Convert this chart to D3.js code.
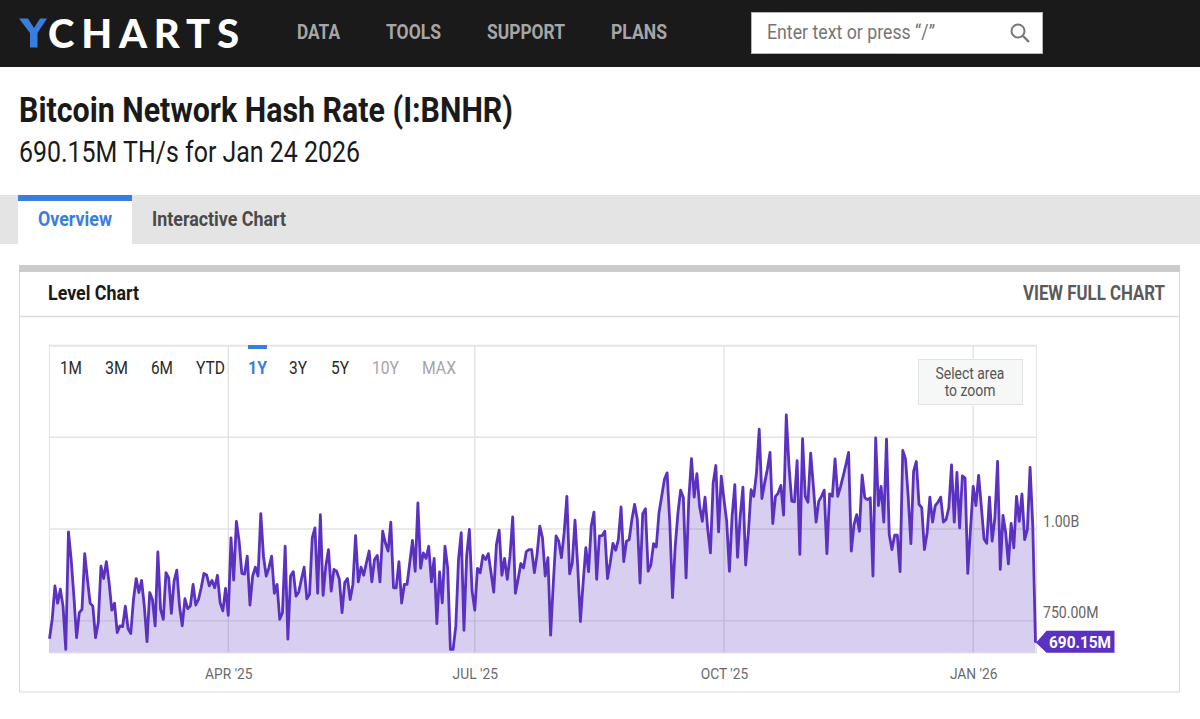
<!DOCTYPE html>
<html><head><meta charset="utf-8">
<style>html,body{margin:0;padding:0;background:#fff;overflow:hidden}svg{display:block}text{font-family:Roboto,sans-serif}</style>
<script src="https://cdn.jsdelivr.net/npm/d3@7"></script></head><body><svg id="c" width="1200" height="719"></svg>
<script>
const startDate = "2025-01-25";
const endDate = "2026-01-24";
const hashRateA = [701,754,845,798,836,790,672,992,917,817,704,772,781,933,863,798,790,704,745,899,865,911,854,779,798,718,736,734,790,729,715,808,865,827,860,790,693,827,808,736,938,781,754,881,867,770,858,888,790,736,810,783,790,849,793,808,840,879,875,845,860,840,874,799,777,838,765,976,861,1021,967,879,877,926,793,872,896,872,1042,926,872,894,926,825,849,754,772,953,700,872,884,817,828,863,896,810,822,976,1003,825,1039,819,899,944,831,890,885,863,772,854,865,808,849,982,856,896,874,908,940,856,917,928,856];
const hashRateB = [994,962,940,1019,840,840,911,798,849,849,908,969,885,1071,893,935,920,953,856,920,742,883,799,953,894,672,672,736,917,990,724,926,999,831,779,893,881,928,917,933,881,828,958,997,874,920,863,926,1033,825,863,906,894,938,944,944,881,931,1008,976,872,922,711,854,981,967,922,990,1089,878,908,1024,899,748,854,949,884,1008,1046,863,981,982,994,865,908,961,942,971,1060,911,967,971,1026,1067,1026,853,1042,1055,885,902,960,951,1044,1089,1135,1153,1017,813,953,1044,1106,1085,867,1080,1192,1087,1151,1062];
const hashRateC = [1021,1087,999,935,1125,1173,992,1144,1080,1021,885,1035,1121,923,1035,1114,902,990,1107,1089,1153,1272,1083,1125,1162,1209,1015,1089,1098,1119,1038,1311,1171,1076,1074,1186,931,1246,1089,1073,1207,1116,1019,1076,1089,1106,933,1096,1089,1191,1089,1115,1144,1175,1209,940,1012,1039,994,1147,1085,1080,1085,872,1248,1064,1116,1019,1245,985,944,983,983,884,1214,1191,1089,960,1157,1184,1067,1058,944,990,1087,1019,1064,1073,1087,1019,1026,1058,1175,1019,1154,1003,1145,1139,879,999,1116,1064,1146,1062,973,961,1087,967,1030,1184,890,1037,990,905,1015,949,1089,1021,1096,971,999,1168,1008,690.15];
const xTickDates = ["2025-04-01","2025-07-01","2025-10-01","2026-01-01"];
const xTickLabels = ["APR '25","JUL '25","OCT '25","JAN '26"];
const yGridValues = [750,1000,1250,1500];
const yTickValues = [750,1000];
const yTickLabels = ["750.00M","1.00B"];
const navItems = ["DATA","TOOLS","SUPPORT","PLANS"];
const rangeButtons = ["1M","3M","6M","YTD","1Y","3Y","5Y","10Y","MAX"];

const values = hashRateA.concat(hashRateB, hashRateC);
const parse = d3.utcParse("%Y-%m-%d");
const dates = values.map((_, i) => d3.utcDay.offset(parse(startDate), i));
const svg = d3.select("#c");
const PURPLE = "#5a32bf", BLUE = "#3a7de0";

function T(x, y, s, o = {}) {
  const t = svg.append("text").attr("x", x).attr("y", y).text(s)
    .attr("font-size", o.size || 16).attr("font-weight", o.weight || 400)
    .attr("fill", o.fill || "#222").attr("text-anchor", o.anchor || "start");
  if (o.width) t.attr("textLength", o.width).attr("lengthAdjust", o.adjust || "spacingAndGlyphs");
  if (o.family) t.style("font-family", o.family);
  return t;
}
function R(x, y, w, h, fill, stroke) {
  return svg.append("rect").attr("x", x).attr("y", y).attr("width", w).attr("height", h)
    .attr("fill", fill).attr("stroke", stroke || "none");
}
// Narrow an already placed text to mimic the condensed face of the original
function squeeze(sel, f) {
  sel.each(function () {
    const w = this.getComputedTextLength();
    d3.select(this).attr("textLength", w * f).attr("lengthAdjust", "spacingAndGlyphs");
  });
}

// Header
R(0, 0, 1200, 67, "#1a1a1a");
svg.append("path").attr("d", "M19 18.5H28L34 28L40 18.5H47L37.5 33V47.5H30V33Z").attr("fill", BLUE);
T(48, 47.5, "CHARTS", { size: 40, weight: 900, fill: "#fff", family: "Lato", width: 191, adjust: "spacing" });
const navX = [297, 386, 487, 611], navW = [43, 55, 78, 56];
navItems.forEach((n, i) => T(navX[i], 39, n, { size: 20, weight: 700, fill: "#a6a6a6", width: navW[i] }));
R(751.5, 12.5, 291, 41, "#fff", "#b5b5b5");
T(767, 39, "Enter text or press “/”", { size: 21, fill: "#757575", width: 168 });
svg.append("circle").attr("cx", 1018).attr("cy", 31).attr("r", 6.5).attr("fill", "none").attr("stroke", "#777").attr("stroke-width", 2);
svg.append("line").attr("x1", 1023).attr("y1", 36).attr("x2", 1029).attr("y2", 42).attr("stroke", "#777").attr("stroke-width", 2.4);

// Title
T(19, 122, "Bitcoin Network Hash Rate (I:BNHR)", { size: 35, weight: 700, fill: "#1a1a1a", width: 494 });
T(19, 162, "690.15M TH/s for Jan 24 2026", { size: 29, fill: "#1a1a1a", width: 341 });

// Tabs
R(0, 195, 1200, 49, "#e4e4e4");
R(18, 195, 114, 49, "#fff");
R(18, 195, 114, 6, BLUE);
T(38, 226, "Overview", { size: 21, weight: 700, fill: BLUE, width: 74 });
T(152, 226, "Interactive Chart", { size: 21, weight: 700, fill: "#4a4a4a", width: 134 });

// Card
R(19.5, 270.5, 1160, 421.5, "#fff", "#d8d8d8");
R(19, 265, 1161, 7, "#cbcbcb");
svg.append("line").attr("x1", 20).attr("x2", 1180).attr("y1", 316.5).attr("y2", 316.5).attr("stroke", "#dcdcdc").attr("stroke-width", 1.5);
T(48, 300, "Level Chart", { size: 21, weight: 700, fill: "#1a1a1a", width: 91 });
T(1023, 300, "VIEW FULL CHART", { size: 19.5, weight: 700, fill: "#5a5a5a", width: 142 });

// Scales
const x = d3.scaleUtc().domain([parse(startDate), parse(endDate)]).range([49.5, 1035.5]);
const y = d3.scaleLinear().domain([663.6, 1500]).range([652.5, 345.5]);

// Grid
R(49.5, 346, 987, 307, "#fff", "#e3e3e3");
svg.append("g").selectAll("line").data(yGridValues).join("line")
  .attr("x1", 49.5).attr("x2", 1036.5).attr("y1", d => y(d)).attr("y2", d => y(d))
  .attr("stroke", "#e3e3e3").attr("stroke-width", 1.3);
svg.append("g").selectAll("line").data(xTickDates).join("line")
  .attr("x1", d => x(parse(d))).attr("x2", d => x(parse(d))).attr("y1", 346).attr("y2", 652.5)
  .attr("stroke", "#dedede").attr("stroke-width", 1.2);

// Area + line
const pts = values.map((v, i) => [dates[i], v]);
svg.append("path").datum(pts).attr("fill", PURPLE).attr("fill-opacity", 0.24)
  .attr("d", d3.area().x(d => x(d[0])).y0(652.5).y1(d => y(d[1])));
svg.append("path").datum(pts).attr("fill", "none").attr("stroke", PURPLE).attr("stroke-width", 2.8)
  .attr("stroke-linejoin", "round")
  .attr("d", d3.line().x(d => x(d[0])).y(d => y(d[1])));

// Axes
const xAxis = d3.axisBottom(x).tickValues(xTickDates.map(parse)).tickSize(0)
  .tickFormat((d, i) => xTickLabels[i]);
const gx = svg.append("g").attr("transform", "translate(0,652.5)").call(xAxis);
gx.select(".domain").remove();
gx.selectAll("text").attr("y", 15).attr("dy", "0.72em").attr("font-size", 15.5).attr("fill", "#6a6a6a").style("font-family", "Roboto");
squeeze(gx.selectAll("text"), 0.89);
const yAxis = d3.axisRight(y).tickValues(yTickValues).tickSize(0)
  .tickFormat((d, i) => yTickLabels[i]);
const gy = svg.append("g").attr("transform", "translate(1036,0)").call(yAxis);
gy.select(".domain").remove();
gy.selectAll("text").attr("x", 7).attr("dy", "-3px").attr("font-size", 16).attr("fill", "#666").style("font-family", "Roboto");
squeeze(gy.selectAll("text"), 0.88);

// Range buttons
const btnX = [60, 105, 151, 196, 248, 289, 331, 372, 422], btnW = [22, 23, 22, 29, 19, 18, 18, 27, 34];
rangeButtons.forEach((b, i) => T(btnX[i], 374, b, {
  size: 18.5, weight: i === 4 ? 700 : 400, width: btnW[i],
  fill: i === 4 ? BLUE : i > 6 ? "#a5a5a5" : "#2a2a2a"
}));
R(248, 345, 19, 4, BLUE);

// Zoom hint
R(918.5, 359.5, 104, 45, "#f6f7f7", "#e3e3e3");
const hint1 = T(970, 379, "Select area", { size: 16, fill: "#555", anchor: "middle" });
const hint2 = T(970, 396, "to zoom", { size: 16, fill: "#555", anchor: "middle" });
squeeze(hint1, 0.87); squeeze(hint2, 0.87);

// Last value flag
const lastI = values.length - 1, ly = y(values[lastI]), lx = x(dates[lastI]);
svg.append("path").attr("fill", PURPLE).attr("d", d3.line()([
  [lx + 0.5, ly], [lx + 11, ly - 12], [1114.5, ly - 12], [1114.5, ly + 10], [lx + 11, ly + 10]]) + "Z");
T(1049, ly + 5.5, "690.15M", { size: 17, weight: 700, fill: "#fff", width: 62 });
</script></body></html>
